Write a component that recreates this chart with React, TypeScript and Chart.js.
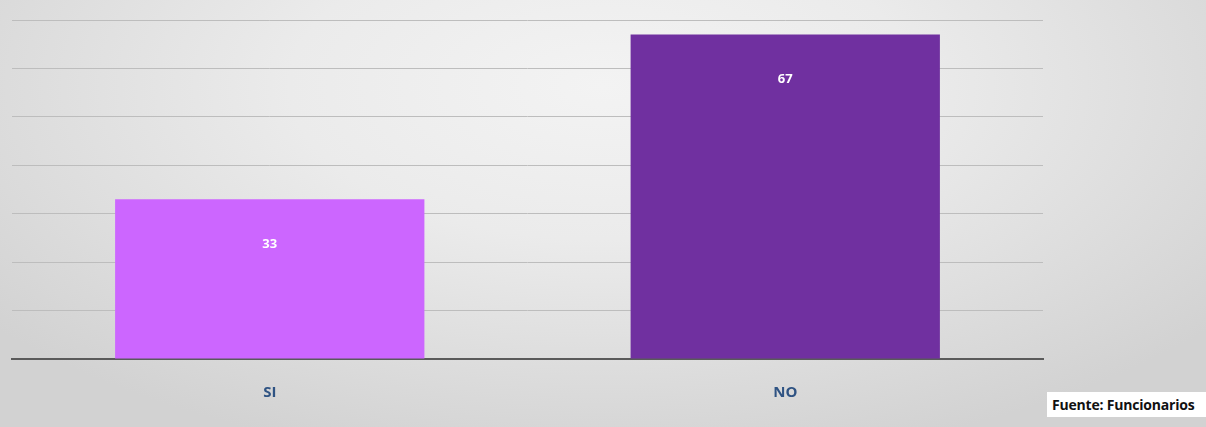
import React, { useEffect, useRef } from "react";
import { Chart, registerables } from "chart.js";

Chart.register(...registerables);

const categories = ["SI", "NO"];
const values = [33, 67];
const barColors = ["#cc66ff", "#7030a0"];
const sourceText = "Fuente: Funcionarios";

const valueLabelPlugin = {
  id: "valueLabels",
  afterDatasetsDraw(chart: any) {
    const ctx = chart.ctx;
    const meta = chart.getDatasetMeta(0);
    ctx.save();
    ctx.fillStyle = "#ffffff";
    ctx.font = "bold 13px 'Open Sans', sans-serif";
    ctx.textAlign = "center";
    ctx.textBaseline = "middle";
    meta.data.forEach((bar: any, i: number) => {
      ctx.fillText(String(values[i]), bar.x, bar.y + 45);
    });
    ctx.restore();
  },
};

export default function App() {
  const canvasRef = useRef<HTMLCanvasElement | null>(null);

  useEffect(() => {
    document.body.style.margin = "0";
    const chart = new Chart(canvasRef.current as HTMLCanvasElement, {
      type: "bar",
      data: {
        labels: categories,
        datasets: [
          {
            data: values,
            backgroundColor: barColors,
            borderWidth: 0,
            categoryPercentage: 1,
            barPercentage: 0.6,
          },
        ],
      },
      options: {
        responsive: false,
        animation: false,
        layout: { padding: { left: 12, right: 163, top: 20, bottom: 8 } },
        plugins: {
          legend: { display: false },
          tooltip: { enabled: false },
        },
        scales: {
          x: {
            grid: { display: false },
            border: { display: true, color: "#5a5a5a", width: 2 },
            ticks: {
              color: "#2f5383",
              font: { family: "'Open Sans', sans-serif", size: 15, weight: "bold" },
              padding: 17,
            },
          },
          y: {
            min: 0,
            max: 70,
            ticks: { display: false, stepSize: 10 },
            border: { display: false },
            grid: { color: "#bdbdbd", lineWidth: 1, drawTicks: false },
          },
        },
      },
      plugins: [valueLabelPlugin],
    });
    return () => chart.destroy();
  }, []);

  return (
    <div
      style={{
        position: "fixed",
        left: 0,
        top: 0,
        width: 1206,
        height: 427,
        background:
          "radial-gradient(ellipse 65% 90% at 50% 20%, #f3f3f3 0%, #ebebeb 40%, #d2d2d2 100%)",
      }}
    >
      <canvas ref={canvasRef} width={1206} height={427} style={{ display: "block" }} />
      <div
        style={{
          position: "absolute",
          left: 1047,
          top: 392,
          width: 160,
          height: 25,
          background: "#ffffff",
          fontFamily: "'Open Sans', sans-serif",
          fontWeight: "bold",
          fontSize: 14,
          letterSpacing: "-0.2px",
          color: "#111111",
          lineHeight: "25px",
          paddingLeft: 5,
          boxSizing: "border-box",
          whiteSpace: "nowrap",
        }}
      >
        {sourceText}
      </div>
    </div>
  );
}
